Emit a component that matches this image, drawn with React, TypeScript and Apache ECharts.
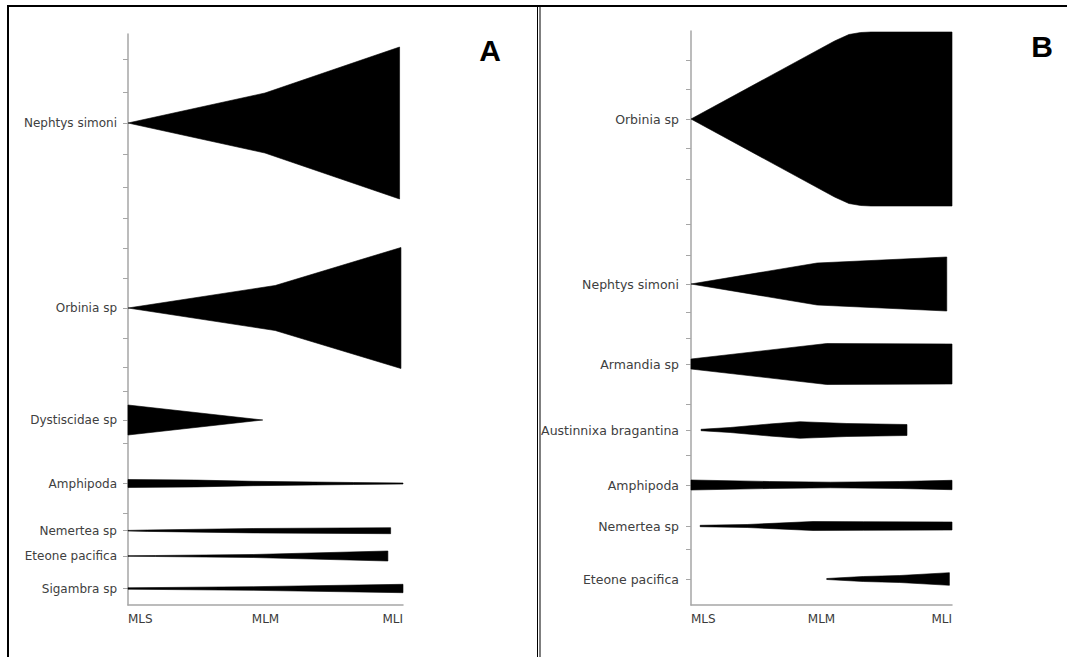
import React, { useEffect, useRef } from 'react';
import * as echarts from 'echarts';

// Stations along the x axis (0 = MLS, 1 = MLM, 2 = MLI)
const stations = ['MLS', 'MLM', 'MLI'];

// ---------- Panel A ----------
const speciesA = ['Nephtys simoni', 'Orbinia sp', 'Dystiscidae sp', 'Amphipoda', 'Nemertea sp', 'Eteone pacifica', 'Sigambra sp'];
// row (centre line) position of each kite on the y scale
const rowA = [89, 274, 386, 449.5, 496.7, 522, 554.5];
const ticksA = [25, 58, 89, 120, 153, 184, 214, 244, 274, 304, 333, 357, 386, 409, 449.5, 479, 496.7, 522, 554.5];
// x positions (station scale) and half-widths of each kite
const xA = [
  [0, 0.996, 1.975],
  [0, 1.07, 1.985],
  [0, 0.98],
  [0, 0.5, 0.91, 1.64, 2.0],
  [0, 0.14, 0.91, 1.91],
  [0, 0.2, 0.91, 1.89],
  [0, 0.91, 2.0],
];
const halfA = [
  [0, 30, 76],
  [0, 22.5, 60.5],
  [15, 0],
  [4, 3.4, 2.2, 1, 0.5],
  [0.3, 0.7, 2.2, 3],
  [0.3, 0.5, 1.5, 5],
  [0.7, 1.8, 4.2],
];

// ---------- Panel B ----------
const speciesB = ['Orbinia sp', 'Nephtys simoni', 'Armandia sp', 'Austinnixa bragantina', 'Amphipoda', 'Nemertea sp', 'Eteone pacifica'];
const rowB = [88, 253, 333, 399, 454, 495, 548];
const ticksB = [29, 58, 88, 117, 148, 193, 224, 253, 281, 307, 333, 373, 399, 424, 454, 495, 518, 548];
const xB = [
  [0, 1.1, 1.21, 1.3, 1.38, 2.0],
  [0, 0.966, 1.96],
  [0, 1.04, 2.0],
  [0.077, 0.3, 0.6, 0.835, 1.195, 1.655],
  [0, 0.6, 1.07, 1.6, 2.0],
  [0.07, 0.43, 0.935, 1.32, 2.0],
  [1.04, 1.32, 1.6, 1.98],
];
const halfB = [
  [0, 78, 84.5, 86.5, 87, 87],
  [0, 21, 27],
  [5, 20.5, 20],
  [0.7, 2.5, 6, 8.3, 6.5, 5.5],
  [5, 3.5, 2.8, 3.5, 4.7],
  [0.7, 1.5, 4.5, 4.3, 4],
  [0.5, 2.5, 3.5, 6.3],
];

const labelColor = '#404040';
const axisGray = '#a6a6a6';
const font = 'DejaVu Sans';

function nameAt(rows: number[], names: string[], v: number) {
  let best = 0;
  for (let i = 1; i < rows.length; i++) {
    if (Math.abs(rows[i] - v) < Math.abs(rows[best] - v)) best = i;
  }
  return names[best];
}

function kiteRender(xs: number[][], halves: number[][], rows: number[]) {
  return (params: any, api: any) => {
    const i = params.dataIndex;
    const top = xs[i].map((x, j) => api.coord([x, rows[i] - halves[i][j]]));
    const bottom = xs[i].map((x, j) => api.coord([x, rows[i] + halves[i][j]])).reverse();
    return {
      type: 'polygon',
      shape: { points: top.concat(bottom) },
      style: { fill: '#000', stroke: '#000', lineWidth: 0.6 },
    };
  };
}

function makeXAxis(gridIndex: number) {
  return {
    gridIndex,
    type: 'value',
    min: 0,
    max: 2,
    interval: 1,
    axisLine: { show: true, onZero: false, lineStyle: { color: axisGray, width: 1.5 } },
    axisTick: { show: false },
    splitLine: { show: false },
    axisLabel: {
      formatter: (v: number) => stations[Math.round(v)],
      color: '#3a3a3a',
      fontSize: 12,
      fontFamily: font,
      margin: 8,
      alignMinLabel: 'left',
      alignMaxLabel: 'right',
    },
  };
}

function makeYAxis(gridIndex: number, max: number, ticks: number[], rows: number[], names: string[], fontSize: number, margin: number) {
  return {
    gridIndex,
    type: 'value',
    inverse: true,
    min: 0,
    max,
    axisLine: { show: true, onZero: false, lineStyle: { color: axisGray, width: 1.5 } },
    axisTick: { show: true, length: 5, customValues: ticks, lineStyle: { color: axisGray, width: 1 } },
    splitLine: { show: false },
    axisLabel: {
      customValues: rows,
      formatter: (v: number) => nameAt(rows, names, v),
      color: labelColor,
      fontSize,
      fontFamily: font,
      margin,
    },
  };
}

export default function App() {
  const ref = useRef<HTMLDivElement>(null);
  useEffect(() => {
    document.body.style.margin = '0';
    if (!ref.current) return;
    const chart = echarts.init(ref.current, null, { renderer: 'svg' });
    chart.setOption({
      animation: false,
      backgroundColor: '#fff',
      grid: [
        { left: 128, top: 34, width: 275, height: 571 },
        { left: 691, top: 31, width: 261, height: 574 },
      ],
      xAxis: [makeXAxis(0), makeXAxis(1)],
      yAxis: [
        makeYAxis(0, 571, ticksA, rowA, speciesA, 12, 11),
        makeYAxis(1, 574, ticksB, rowB, speciesB, 12.5, 12),
      ],
      series: [
        {
          type: 'custom',
          xAxisIndex: 0,
          yAxisIndex: 0,
          clip: false,
          renderItem: kiteRender(xA, halfA, rowA),
          data: speciesA.map((_, i) => [xA[i][0], rowA[i]]),
        },
        {
          type: 'custom',
          xAxisIndex: 1,
          yAxisIndex: 1,
          clip: false,
          renderItem: kiteRender(xB, halfB, rowB),
          data: speciesB.map((_, i) => [xB[i][0], rowB[i]]),
        },
      ],
      graphic: [
        { type: 'line', shape: { x1: 7, y1: 6, x2: 1067, y2: 6 }, style: { stroke: '#000', lineWidth: 2 } },
        { type: 'line', shape: { x1: 8, y1: 5, x2: 8, y2: 657 }, style: { stroke: '#000', lineWidth: 2 } },
        { type: 'line', shape: { x1: 537.5, y1: 5, x2: 537.5, y2: 657 }, style: { stroke: '#000', lineWidth: 1 } },
        { type: 'line', shape: { x1: 540, y1: 5, x2: 540, y2: 657 }, style: { stroke: '#000', lineWidth: 1 } },
        {
          type: 'text', x: 490, y: 50,
          style: { text: 'A', fill: '#000', font: 'bold 30px "Liberation Sans", Arial, sans-serif', textAlign: 'center', textVerticalAlign: 'middle' },
        },
        {
          type: 'text', x: 1042, y: 46,
          style: { text: 'B', fill: '#000', font: 'bold 30px "Liberation Sans", Arial, sans-serif', textAlign: 'center', textVerticalAlign: 'middle' },
        },
      ],
    });
    return () => chart.dispose();
  }, []);
  return <div ref={ref} style={{ width: 1067, height: 657 }} />;
}
